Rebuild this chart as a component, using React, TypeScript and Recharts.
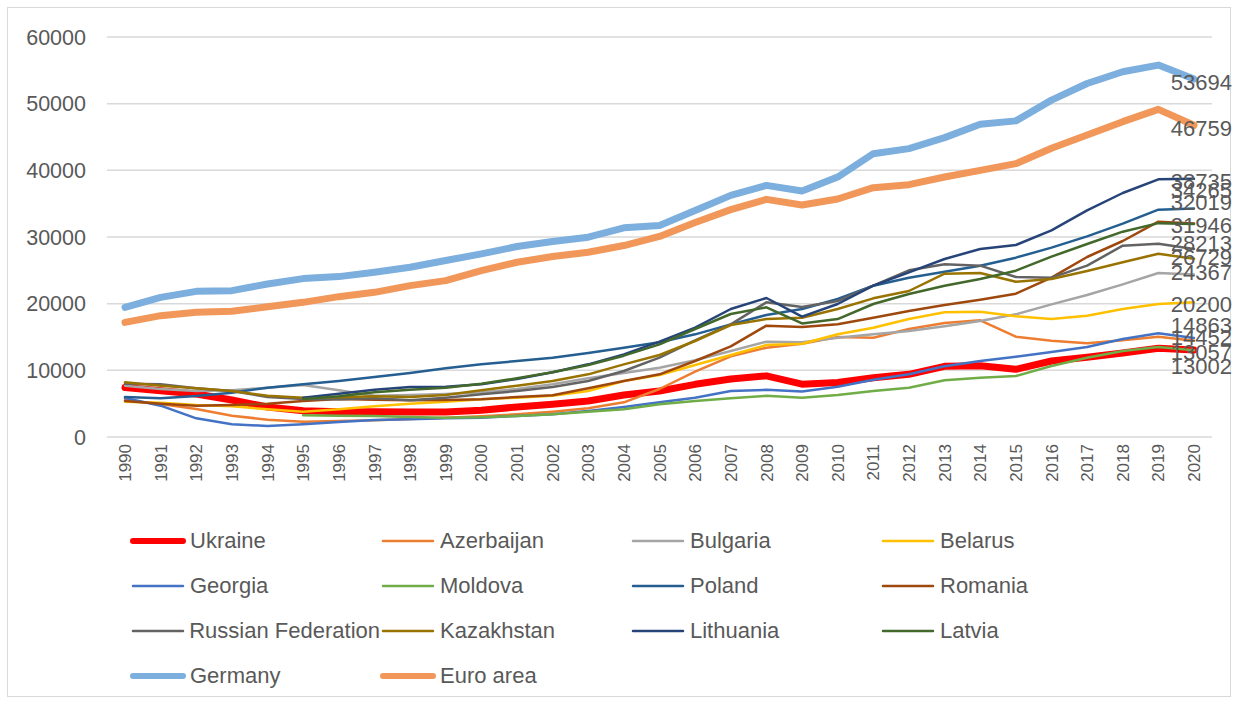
import { CartesianGrid, LabelList, Legend, Line, LineChart, XAxis, YAxis } from 'recharts';

const years = [
  '1990', '1991', '1992', '1993', '1994', '1995', '1996', '1997', '1998', '1999', '2000',
  '2001', '2002', '2003', '2004', '2005', '2006', '2007', '2008', '2009', '2010',
  '2011', '2012', '2013', '2014', '2015', '2016', '2017', '2018', '2019', '2020',
];
const yTicks = [0, 10000, 20000, 30000, 40000, 50000, 60000];

const ukraine = [7420, 6950, 6450, 5550, 4500, 3950, 3800, 3800, 3750, 3760, 4010, 4500, 4900, 5400, 6300, 6900, 7900, 8700, 9170, 7920, 8170, 8900, 9400, 10600, 10700, 10150, 11400, 11950, 12600, 13300, 13057];
const azerbaijan = [5520, 4950, 4200, 3200, 2600, 2300, 2400, 2500, 2700, 2900, 3100, 3400, 3800, 4300, 5200, 7200, 9800, 12100, 13400, 14000, 15000, 14900, 16200, 17100, 17500, 15050, 14450, 14050, 14500, 15050, 14452];
const bulgaria = [7700, 7200, 6900, 7000, 7400, 7800, 7000, 6200, 6300, 6450, 6700, 7200, 7900, 8800, 9600, 10400, 11500, 12900, 14300, 14200, 14900, 15400, 15900, 16600, 17400, 18400, 19900, 21300, 22900, 24600, 24367];
const belarus = [5300, 5150, 4800, 4600, 4150, 3800, 4150, 4600, 5000, 5300, 5650, 5900, 6200, 6900, 8400, 9300, 10800, 12300, 13800, 14000, 15400, 16400, 17700, 18700, 18800, 18100, 17700, 18200, 19200, 19950, 20200];
const georgia = [5850, 4700, 2800, 1900, 1650, 1900, 2250, 2550, 2660, 2800, 2900, 3160, 3400, 3900, 4500, 5200, 5900, 6900, 7070, 6810, 7550, 8600, 9400, 10600, 11400, 12050, 12750, 13500, 14700, 15550, 14863];
const moldova = [null, null, null, null, null, 3250, 3200, 3160, 3000, 2900, 2950, 3160, 3400, 3800, 4160, 4900, 5400, 5800, 6170, 5900, 6300, 6900, 7400, 8500, 8900, 9150, 10650, 11900, 12900, 13500, 13002];
const poland = [6000, 5800, 6150, 6650, 7400, 7900, 8400, 9000, 9600, 10300, 10900, 11400, 11900, 12600, 13400, 14200, 15400, 16900, 18300, 19200, 20700, 22700, 23900, 24800, 25700, 26900, 28400, 30100, 32000, 34100, 34265];
const romania = [5400, 5000, 4700, 4800, 5000, 5400, 5700, 5600, 5500, 5550, 5650, 6000, 6250, 7300, 8400, 9400, 11400, 13600, 16700, 16500, 16900, 17900, 18900, 19800, 20600, 21500, 23900, 27000, 29400, 32300, 32019];
const russia = [8000, 7900, 7300, 6900, 6000, 5700, 5650, 5800, 5500, 5900, 6400, 6900, 7500, 8400, 9900, 11900, 14500, 16900, 20200, 19500, 20400, 22700, 25000, 25900, 25700, 24000, 23900, 25700, 28700, 29000, 28213];
const kazakhstan = [8200, 7700, 7300, 6900, 6200, 5900, 5950, 6100, 6000, 6300, 7000, 7700, 8400, 9400, 10900, 12300, 14400, 16800, 17700, 17900, 19200, 20800, 21900, 24500, 24600, 23300, 23700, 24900, 26200, 27500, 26729];
const lithuania = [null, null, null, null, null, 5900, 6500, 7100, 7500, 7550, 7900, 8700, 9700, 10900, 12400, 14300, 16400, 19200, 20850, 18050, 19950, 22700, 24700, 26700, 28200, 28800, 31000, 34000, 36600, 38650, 38735];
const latvia = [null, null, null, null, null, 5700, 6100, 6700, 7100, 7400, 8000, 8800, 9700, 10800, 12200, 13900, 16200, 18450, 19450, 17040, 17690, 19950, 21460, 22700, 23700, 24950, 27050, 28950, 30800, 32080, 31946];
const germany = [19450, 20950, 21850, 21950, 22950, 23760, 24060, 24710, 25460, 26470, 27470, 28570, 29320, 29970, 31380, 31730, 33980, 36240, 37740, 36890, 38990, 42500, 43260, 44910, 46920, 47420, 50530, 53030, 54790, 55790, 53694];
const euroArea = [17190, 18200, 18700, 18850, 19550, 20200, 21050, 21700, 22710, 23460, 24960, 26210, 27070, 27720, 28720, 30080, 32180, 34100, 35650, 34800, 35700, 37400, 37850, 39000, 40000, 41000, 43300, 45300, 47300, 49150, 46759];

const series = [
  { name: 'Ukraine', values: ukraine, color: '#FF0000', width: 7, nudge: 3 },
  { name: 'Azerbaijan', values: azerbaijan, color: '#ED7D31', width: 2.5, nudge: -3 },
  { name: 'Bulgaria', values: bulgaria, color: '#A5A5A5', width: 2.5, nudge: -2 },
  { name: 'Belarus', values: belarus, color: '#FFC000', width: 2.5, nudge: 2 },
  { name: 'Georgia', values: georgia, color: '#4472C4', width: 2.5, nudge: -12 },
  { name: 'Moldova', values: moldova, color: '#70AD47', width: 2.5, nudge: 16 },
  { name: 'Poland', values: poland, color: '#255E91', width: 2.5, nudge: -18 },
  { name: 'Romania', values: romania, color: '#9E480E', width: 2.5, nudge: -21 },
  { name: 'Russian Federation', values: russia, color: '#636363', width: 2.5, nudge: -5 },
  { name: 'Kazakhstan', values: kazakhstan, color: '#997300', width: 2.5, nudge: -1 },
  { name: 'Lithuania', values: lithuania, color: '#264478', width: 2.5, nudge: 3 },
  { name: 'Latvia', values: latvia, color: '#43682B', width: 2.5, nudge: 1 },
  { name: 'Germany', values: germany, color: '#7CAFDD', width: 7, nudge: 3 },
  { name: 'Euro area', values: euroArea, color: '#F1975A', width: 7, nudge: 3 },
];

const data = years.map((year, i) => {
  const row: Record<string, string | number | null> = { year };
  series.forEach((s) => {
    row[s.name] = s.values[i];
  });
  return row;
});

const TEXT = '#595959';
const FONT = "'Liberation Sans', Arial, sans-serif";

function YearTick({ x, y, payload }: any) {
  return (
    <text
      x={x}
      y={y - 1}
      dy="0.36em"
      transform={`rotate(-90, ${x}, ${y - 1})`}
      textAnchor="end"
      fontSize={17}
      fill={TEXT}
    >
      {payload.value}
    </text>
  );
}

function EndLabel({ x, y, value, index, nudge }: any) {
  if (index !== years.length - 1 || value == null) return null;
  return (
    <text x={x + 38} y={y + nudge} textAnchor="end" dominantBaseline="central" fontSize={22} fill={TEXT}>
      {value}
    </text>
  );
}

function LegendGrid() {
  return (
    <div
      style={{
        display: 'grid',
        gridTemplateColumns: 'repeat(4, 250px)',
        gridAutoRows: '45px',
        paddingLeft: 130,
        fontFamily: FONT,
        fontSize: 22,
        color: TEXT,
      }}
    >
      {series.map((s) => (
        <div key={s.name} style={{ display: 'flex', alignItems: 'center', whiteSpace: 'nowrap' }}>
          <svg width={56} height={12} style={{ marginRight: 4 }}>
            <line x1={3} y1={6} x2={53} y2={6} stroke={s.color} strokeWidth={s.width > 3 ? 6 : 2.5} strokeLinecap="round" />
          </svg>
          <span>{s.name}</span>
        </div>
      ))}
    </div>
  );
}

export default function App() {
  return (
    <div style={{ position: 'absolute', left: 0, top: 0, width: 1238, height: 702, background: '#fff', fontFamily: FONT }}>
      <div
        style={{
          position: 'absolute',
          left: 7,
          top: 7,
          width: 1224,
          height: 690,
          border: '1px solid #D9D9D9',
          boxSizing: 'border-box',
        }}
      />
      <div style={{ position: 'absolute', left: 0, top: 0 }}>
        <LineChart width={1238} height={702} data={data} margin={{ top: 37, right: 26, bottom: 205, left: 0 }}>
          <CartesianGrid vertical={false} stroke="#D9D9D9" strokeWidth={1.5} />
          <XAxis
            dataKey="year"
            interval={0}
            height={60}
            padding={{ left: 18, right: 18 }}
            axisLine={false}
            tickLine={false}
            tick={<YearTick />}
          />
          <YAxis
            domain={[0, 60000]}
            ticks={yTicks}
            width={107}
            axisLine={false}
            tickLine={false}
            tickMargin={15}
            tick={{ fontSize: 21.5, fill: TEXT }}
          />
          <Legend
            layout="horizontal"
            verticalAlign="middle"
            align="center"
            wrapperStyle={{ top: 518, left: 0, width: 1238 }}
            content={() => <LegendGrid />}
          />
          {series.map((s) => (
            <Line
              key={s.name}
              type="linear"
              dataKey={s.name}
              stroke={s.color}
              strokeWidth={s.width}
              strokeLinejoin="round"
              strokeLinecap="round"
              dot={false}
              activeDot={false}
              isAnimationActive={false}
            >
              <LabelList dataKey={s.name} content={(p: any) => <EndLabel {...p} nudge={s.nudge} />} />
            </Line>
          ))}
        </LineChart>
      </div>
    </div>
  );
}
